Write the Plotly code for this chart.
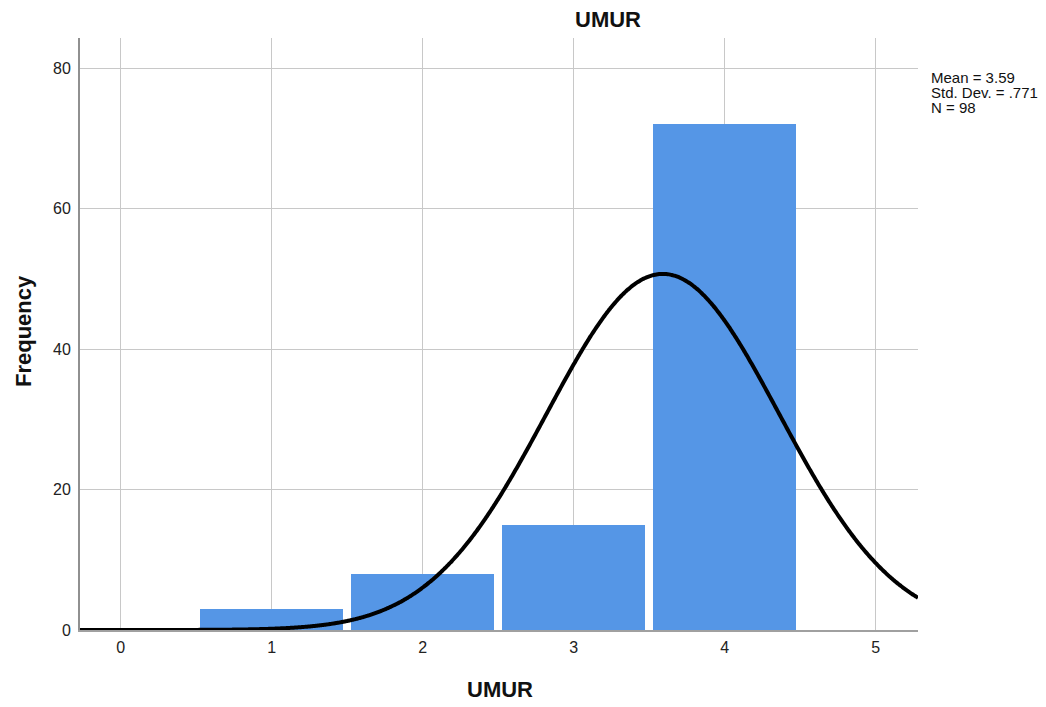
import numpy as np
import plotly.graph_objects as go

# Data
categories = [1, 2, 3, 4]
frequencies = [3, 8, 15, 72]
mean_val = 3.59
std_dev = 0.771
n_total = 98
x_ticks = [0, 1, 2, 3, 4, 5]
y_ticks = [0, 20, 40, 60, 80]
stats_lines = ["Mean = 3.59", "Std. Dev. = .771", "N = 98"]

# Normal curve derived from the shown statistics (bin width 1)
xc = np.linspace(-0.27, 5.28, 600)
yc = n_total / (std_dev * np.sqrt(2 * np.pi)) * np.exp(-0.5 * ((xc - mean_val) / std_dev) ** 2)

PL, PT, PB, PH, PW = 80, 38, 630, 592, 838  # plot area in page pixels

fig = go.Figure()
fig.add_trace(go.Bar(x=categories, y=frequencies, width=0.947,
                     marker=dict(color="#5596E6", line=dict(width=0)),
                     showlegend=False, hoverinfo="x+y"))
fig.add_trace(go.Scatter(x=xc, y=yc, mode="lines",
                         line=dict(color="black", width=4, shape="spline"), showlegend=False,
                         cliponaxis=False))

fig.update_layout(
    width=1038, height=699,
    margin=dict(l=72, r=128, t=30, b=77, autoexpand=False),
    plot_bgcolor="white", paper_bgcolor="white",
    font=dict(family="Liberation Sans, Arial", color="#222222", size=16),
    xaxis=dict(range=[-0.27, 5.28], tickvals=x_ticks, showgrid=True,
               gridcolor="#C8C8C8", gridwidth=1.3, zeroline=False,
               showline=True, linecolor="#A0A0A0", linewidth=2, ticks="",
               ticklabelstandoff=2, automargin=False),
    yaxis=dict(range=[0, 84.3], tickvals=y_ticks, showgrid=True,
               gridcolor="#C8C8C8", gridwidth=1.3, zeroline=False,
               showline=True, linecolor="#909090", linewidth=2, ticks="",
               ticklabelstandoff=4, automargin=False),
    bargap=0,
)

# Chart title
fig.add_annotation(text="<b>UMUR</b>", xref="paper", yref="paper",
                   x=(608 - PL) / PW, y=1, yshift=PT - 19.5, yanchor="middle", xanchor="center",
                   showarrow=False, font=dict(size=22, color="#111111"))
# Axis titles
fig.add_annotation(text="<b>UMUR</b>", xref="paper", yref="paper",
                   x=(500 - PL) / PW, y=0, yshift=-(689.5 - PB), yanchor="middle", xanchor="center",
                   showarrow=False, font=dict(size=22, color="#111111"))
fig.add_annotation(text="<b>Frequency</b>", xref="paper", yref="paper",
                   x=0, xshift=-(PL - 23), y=(PB - 331) / PH, textangle=-90,
                   yanchor="middle", xanchor="center",
                   showarrow=False, font=dict(size=22, color="#111111"))
# Statistics text
for i, line in enumerate(stats_lines):
    cy = 77.5 + 15 * i
    fig.add_annotation(text=line, xref="paper", yref="paper",
                       x=1, xshift=11, y=(PB - cy) / PH,
                       xanchor="left", yanchor="middle", align="left", showarrow=False,
                       font=dict(size=15, color="#111111"))

fig.write_html("out.html")
